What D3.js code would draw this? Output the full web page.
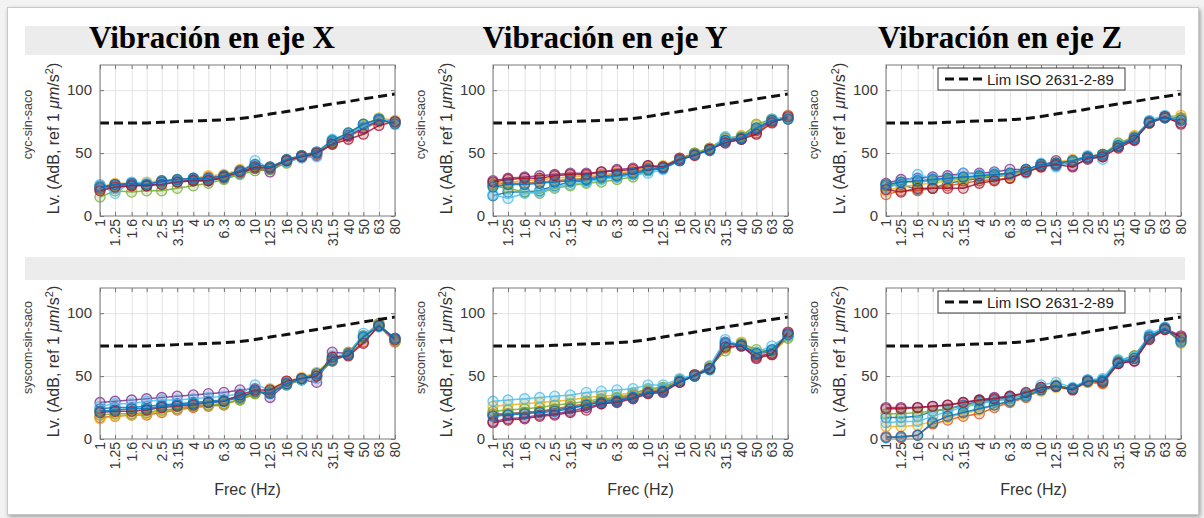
<!DOCTYPE html>
<html>
<head>
<meta charset="utf-8">
<script src="https://cdn.jsdelivr.net/npm/d3@7"></script>
<style>
  body { margin: 0; background: #f3f3f3; }
  svg { display: block; }
  text { font-family: Arial, "Liberation Sans", sans-serif; }
</style>
</head>
<body>
<div id="chart"></div>
<script>
// third-octave bands (Hz)
var freqs = [1, 1.25, 1.6, 2, 2.5, 3.15, 4, 5, 6.3, 8, 10, 12.5, 16, 20, 25, 31.5, 40, 50, 63, 80];
var freqLabels = ["1", "1.25", "1.6", "2", "2.5", "3.15", "4", "5", "6.3", "8", "10", "12.5", "16", "20", "25", "31.5", "40", "50", "63", "80"];
var yTicks = [0, 50, 100];

var titles = ["Vibración en eje X", "Vibración en eje Y", "Vibración en eje Z"];
var rowLabels = ["cyc-sin-saco", "syscom-sin-saco"];
var legendLabel = "Lim ISO 2631-2-89";

// ISO 2631-2 limit curve (dB)
var isoLimit = [74, 74, 74, 74, 74.5, 75, 75.5, 76, 76.5, 77.5, 79, 81, 83, 85, 87, 89, 91, 93, 95, 97];

// cyc-sin-saco, X
var cycX = [
  [24, 22, 25, 24, 26, 27, 28, 28, 30, 34, 38, 37, 43, 47, 49, 59, 64, 70, 76, 74],
  [21, 24, 24, 25, 27, 28, 29, 31, 32, 36, 40, 39, 44, 48, 50, 58, 63, 69, 75, 75],
  [23, 26, 26, 27, 28, 29, 30, 32, 33, 37, 39, 38, 45, 48, 50, 57, 65, 72, 78, 76],
  [22, 25, 25, 24, 27, 28, 29, 29, 31, 34, 38, 35, 44, 47, 48, 58, 64, 70, 76, 75],
  [15, 20, 19, 20, 20, 22, 24, 26, 29, 33, 36, 37, 42, 47, 50, 59, 66, 73, 77, 74],
  [25, 18, 27, 26, 26, 28, 30, 30, 31, 34, 44, 38, 43, 46, 47, 61, 65, 71, 77, 75],
  [20, 23, 24, 24, 25, 27, 28, 28, 31, 35, 39, 38, 44, 47, 50, 57, 61, 65, 72, 75],
  [23, 25, 26, 25, 28, 29, 30, 30, 32, 36, 41, 39, 45, 48, 51, 60, 66, 73, 77, 73]
];

// cyc-sin-saco, Y
var cycY = [
  [16, 19, 19, 20, 24, 27, 28, 30, 31, 33, 36, 38, 44, 49, 53, 59, 61, 68, 75, 78],
  [25, 26, 26, 27, 28, 29, 30, 32, 33, 35, 38, 39, 45, 50, 53, 62, 62, 66, 75, 80],
  [26, 27, 28, 29, 30, 31, 32, 33, 34, 36, 39, 40, 46, 50, 54, 61, 64, 72, 77, 78],
  [28, 30, 31, 32, 33, 34, 34, 35, 37, 38, 40, 39, 46, 49, 53, 60, 62, 69, 76, 77],
  [24, 22, 19, 18, 22, 24, 26, 27, 29, 31, 36, 39, 45, 50, 54, 62, 63, 73, 77, 77],
  [17, 14, 18, 19, 23, 25, 27, 29, 31, 33, 34, 37, 44, 49, 52, 63, 62, 70, 77, 78],
  [27, 29, 30, 30, 32, 33, 33, 35, 36, 37, 40, 39, 45, 48, 53, 58, 61, 65, 74, 79],
  [23, 25, 25, 26, 27, 28, 29, 31, 32, 34, 37, 38, 44, 49, 52, 60, 62, 70, 76, 77]
];

// cyc-sin-saco, Z
var cycZ = [
  [24, 25, 21, 22, 26, 28, 30, 31, 33, 35, 41, 40, 43, 46, 48, 56, 61, 75, 79, 77],
  [17, 20, 20, 22, 24, 26, 28, 29, 30, 35, 39, 42, 43, 47, 48, 55, 63, 74, 78, 78],
  [20, 23, 25, 26, 28, 29, 31, 32, 32, 36, 40, 43, 45, 47, 49, 57, 64, 74, 79, 80],
  [26, 29, 30, 31, 32, 34, 34, 35, 37, 37, 40, 44, 40, 45, 47, 55, 61, 74, 78, 74],
  [24, 27, 27, 28, 29, 30, 31, 32, 34, 36, 41, 42, 44, 47, 49, 58, 62, 74, 79, 78],
  [22, 26, 33, 30, 30, 34, 33, 34, 33, 34, 42, 39, 44, 48, 45, 57, 62, 76, 80, 76],
  [21, 19, 22, 22, 22, 22, 26, 28, 30, 35, 39, 41, 39, 46, 47, 54, 60, 74, 79, 73],
  [25, 27, 28, 29, 30, 31, 32, 33, 34, 37, 41, 42, 44, 47, 49, 56, 62, 75, 78, 76]
];

// syscom-sin-saco, X
var sysX = [
  [24, 25, 25, 26, 27, 28, 29, 30, 31, 34, 37, 37, 43, 47, 50, 62, 68, 80, 91, 78],
  [17, 18, 19, 19, 21, 23, 25, 26, 27, 32, 37, 38, 45, 48, 51, 62, 67, 77, 90, 77],
  [16, 18, 19, 20, 22, 24, 26, 27, 28, 31, 36, 40, 46, 49, 53, 64, 68, 80, 91, 78],
  [29, 30, 31, 32, 33, 34, 35, 36, 37, 39, 40, 33, 44, 47, 45, 69, 68, 82, 90, 80],
  [19, 20, 20, 21, 23, 24, 26, 27, 28, 31, 36, 38, 43, 47, 50, 63, 69, 82, 92, 78],
  [26, 28, 28, 30, 31, 31, 32, 33, 34, 36, 43, 39, 45, 47, 48, 66, 67, 84, 89, 79],
  [21, 22, 22, 23, 25, 26, 27, 29, 30, 35, 39, 39, 46, 48, 50, 65, 66, 76, 90, 79],
  [22, 23, 24, 24, 26, 27, 28, 29, 30, 33, 38, 36, 44, 48, 52, 63, 67, 81, 90, 80]
];

// syscom-sin-saco, Y
var sysY = [
  [19, 20, 21, 22, 23, 25, 27, 30, 31, 34, 37, 39, 46, 50, 56, 74, 75, 67, 70, 82],
  [20, 20, 21, 22, 24, 26, 28, 31, 32, 35, 38, 40, 47, 51, 57, 75, 74, 66, 68, 83],
  [26, 27, 28, 29, 30, 31, 33, 34, 35, 37, 39, 41, 47, 51, 58, 72, 77, 69, 67, 81],
  [14, 16, 17, 19, 20, 22, 25, 28, 30, 33, 37, 38, 45, 50, 56, 77, 74, 65, 68, 84],
  [22, 23, 24, 25, 27, 28, 30, 32, 33, 36, 40, 41, 47, 50, 57, 70, 76, 71, 70, 80],
  [30, 31, 32, 33, 34, 35, 37, 38, 39, 40, 43, 43, 48, 51, 58, 79, 74, 69, 74, 82],
  [13, 15, 16, 18, 19, 21, 23, 28, 29, 32, 36, 37, 45, 51, 56, 73, 74, 64, 67, 85],
  [18, 19, 20, 21, 22, 24, 27, 29, 30, 33, 37, 38, 46, 50, 55, 76, 75, 68, 71, 83]
];

// syscom-sin-saco, Z
var sysZ = [
  [17, 17, 18, 22, 24, 27, 30, 31, 33, 36, 40, 42, 40, 47, 47, 62, 66, 82, 88, 80],
  [2, 1, 3, 12, 15, 18, 20, 25, 29, 33, 39, 42, 40, 45, 44, 60, 64, 80, 87, 78],
  [10, 10, 11, 14, 17, 20, 23, 27, 30, 34, 38, 41, 39, 45, 45, 61, 66, 80, 88, 76],
  [25, 25, 25, 26, 27, 29, 31, 33, 34, 36, 41, 42, 40, 46, 46, 60, 62, 80, 88, 82],
  [20, 20, 21, 22, 24, 26, 29, 30, 32, 35, 40, 43, 40, 46, 46, 62, 66, 81, 88, 79],
  [13, 14, 14, 18, 22, 25, 28, 30, 32, 36, 43, 45, 41, 47, 48, 63, 65, 83, 89, 78],
  [24, 24, 25, 26, 27, 29, 31, 32, 34, 37, 41, 42, 39, 46, 45, 60, 62, 79, 87, 81],
  [1, 2, 3, 13, 18, 21, 24, 27, 30, 34, 39, 42, 40, 46, 46, 61, 64, 81, 88, 77]
];

var colors = ["#0072BD", "#D95319", "#EDB120", "#7E2F8E", "#77AC30", "#4DBEEE", "#A2142F"];

(function () {
  var W = 1204, H = 518,
    plotW = 295, plotH = 151,
    lefts = [100, 493, 886],
    tops = [65, 288],
    titleX = [212, 605, 1000],
    panels = [[cycX, cycY, cycZ], [sysX, sysY, sysZ]];

  var svg = d3.select("#chart").append("svg")
    .attr("width", W)
    .attr("height", H);

  var defs = svg.append("defs");
  var f = defs.append("filter").attr("id", "shadow")
    .attr("x", "-2%").attr("y", "-2%").attr("width", "104%").attr("height", "106%");
  f.append("feDropShadow")
    .attr("dx", 1.5).attr("dy", 2).attr("stdDeviation", 2)
    .attr("flood-color", "#000").attr("flood-opacity", 0.35);

  // paper frame
  svg.append("rect")
    .attr("x", 7.5).attr("y", 7.5)
    .attr("width", 1191).attr("height", 507)
    .attr("fill", "#fff")
    .attr("stroke", "#c9c9c9")
    .attr("filter", "url(#shadow)");

  // gray bands
  svg.append("rect").attr("x", 25).attr("y", 26).attr("width", 1160).attr("height", 29).attr("fill", "#ececec");
  svg.append("rect").attr("x", 25).attr("y", 257).attr("width", 1160).attr("height", 23).attr("fill", "#ececec");

  svg.selectAll("text.title")
    .data(titles)
    .enter().append("text")
    .attr("class", "title")
    .attr("x", function (d, i) { return titleX[i]; })
    .attr("y", 48)
    .attr("text-anchor", "middle")
    .style("font-family", "'Liberation Serif', 'DejaVu Serif', serif")
    .style("font-weight", "bold")
    .style("font-size", "31px")
    .attr("fill", "#000")
    .text(function (d) { return d; });

  var x = d3.scaleLog().domain([1, 80]).range([0, plotW]);
  var y = d3.scaleLinear().domain([0, 120]).range([plotH, 0]);

  var line = d3.line()
    .x(function (d, i) { return x(freqs[i]); })
    .y(function (d) { return y(d); });

  var isoLine = d3.line()
    .curve(d3.curveMonotoneX)
    .x(function (d, i) { return x(freqs[i]); })
    .y(function (d) { return y(d); });

  function drawPanel(r, c) {
    var series = panels[r][c];
    var g = svg.append("g")
      .attr("transform", "translate(" + lefts[c] + "," + tops[r] + ")");

    g.append("rect").attr("width", plotW).attr("height", plotH).attr("fill", "#fff");

    // grid
    g.append("g")
      .attr("class", "grid")
      .call(d3.axisBottom(x).tickValues(freqs).tickSize(plotH).tickFormat(""))
      .call(function (s) {
        s.select(".domain").remove();
        s.selectAll("line").attr("stroke", "#e3e3e3");
      });
    g.append("g")
      .call(d3.axisLeft(y).tickValues([50, 100]).tickSize(-plotW).tickFormat(""))
      .call(function (s) {
        s.select(".domain").remove();
        s.selectAll("line").attr("stroke", "#e3e3e3");
      });

    // data
    series.forEach(function (vals, k) {
      var col = colors[k % colors.length];
      g.append("path")
        .datum(vals)
        .attr("d", line)
        .attr("fill", "none")
        .attr("stroke", col)
        .attr("stroke-width", 1.5)
        .attr("stroke-opacity", 0.85);
      g.selectAll("circle.s" + k)
        .data(vals)
        .enter().append("circle")
        .attr("class", "s" + k)
        .attr("cx", function (d, i) { return x(freqs[i]); })
        .attr("cy", function (d) { return y(d); })
        .attr("r", 5)
        .attr("fill", col)
        .attr("fill-opacity", 0.2)
        .attr("stroke", col)
        .attr("stroke-opacity", 0.8)
        .attr("stroke-width", 1.3);
    });

    // ISO limit
    g.append("path")
      .datum(isoLimit)
      .attr("d", isoLine)
      .attr("fill", "none")
      .attr("stroke", "#111")
      .attr("stroke-width", 3)
      .attr("stroke-dasharray", "9,5");

    // ticks inside, all four sides
    var tickCol = "#777";
    g.append("g").attr("transform", "translate(0," + plotH + ")")
      .call(d3.axisBottom(x).tickValues(freqs).tickSize(-4).tickFormat(function (d, i) { return freqLabels[i]; }))
      .call(function (s) {
        s.select(".domain").remove();
        s.selectAll("line").attr("stroke", tickCol);
        s.selectAll("text")
          .attr("transform", "rotate(-90)")
          .attr("x", -3)
          .attr("y", 0)
          .attr("dy", "0.35em")
          .attr("text-anchor", "end")
          .attr("fill", "#3a3a3a")
          .style("font-size", "14px");
      });
    g.append("g")
      .call(d3.axisTop(x).tickValues(freqs).tickSize(-4).tickFormat(""))
      .call(function (s) {
        s.select(".domain").remove();
        s.selectAll("line").attr("stroke", tickCol);
      });
    g.append("g")
      .call(d3.axisLeft(y).tickValues(yTicks).tickSize(-4).tickPadding(8))
      .call(function (s) {
        s.select(".domain").remove();
        s.selectAll("line").attr("stroke", tickCol);
        s.selectAll("text").attr("fill", "#3a3a3a").style("font-size", "15px");
      });
    g.append("g").attr("transform", "translate(" + plotW + ",0)")
      .call(d3.axisRight(y).tickValues(yTicks).tickSize(-4).tickFormat(""))
      .call(function (s) {
        s.select(".domain").remove();
        s.selectAll("line").attr("stroke", tickCol);
      });

    g.append("rect")
      .attr("width", plotW).attr("height", plotH)
      .attr("fill", "none")
      .attr("stroke", "#7a7a7a");

    // y labels
    var cy = plotH / 2;
    g.append("text")
      .attr("transform", "translate(-68," + (cy - 16) + ") rotate(-90)")
      .attr("text-anchor", "middle")
      .attr("fill", "#444")
      .style("font-size", "12.5px")
      .text(rowLabels[r]);
    var lab = g.append("text")
      .attr("transform", "translate(-41," + (cy - 2) + ") rotate(-90)")
      .attr("text-anchor", "middle")
      .attr("fill", "#333")
      .style("font-size", "16px");
    lab.append("tspan").text("Lv. (AdB, ref 1 ");
    lab.append("tspan").style("font-style", "italic").text("\u03bcm");
    lab.append("tspan").text("/s");
    lab.append("tspan").attr("dy", -6).style("font-size", "11px").text("2");
    lab.append("tspan").attr("dy", 6).text(")");

    if (r === 1) {
      g.append("text")
        .attr("x", plotW / 2)
        .attr("y", 495 - tops[r])
        .attr("text-anchor", "middle")
        .attr("fill", "#333")
        .style("font-size", "16px")
        .text("Frec (Hz)");
    }

    if (c === 2) {
      var lg = g.append("g").attr("transform", "translate(52,3)");
      lg.append("rect")
        .attr("width", 187).attr("height", 22)
        .attr("fill", "#fff")
        .attr("stroke", "#3a3a3a");
      lg.append("line")
        .attr("x1", 7).attr("x2", 48)
        .attr("y1", 11).attr("y2", 11)
        .attr("stroke", "#111")
        .attr("stroke-width", 3)
        .attr("stroke-dasharray", "9,5");
      lg.append("text")
        .attr("x", 49).attr("y", 16.5)
        .attr("fill", "#222")
        .style("font-size", "15px")
        .text(legendLabel);
    }
  }

  [0, 1].forEach(function (r) {
    [0, 1, 2].forEach(function (c) { drawPanel(r, c); });
  });
}());
</script>
</body>
</html>
